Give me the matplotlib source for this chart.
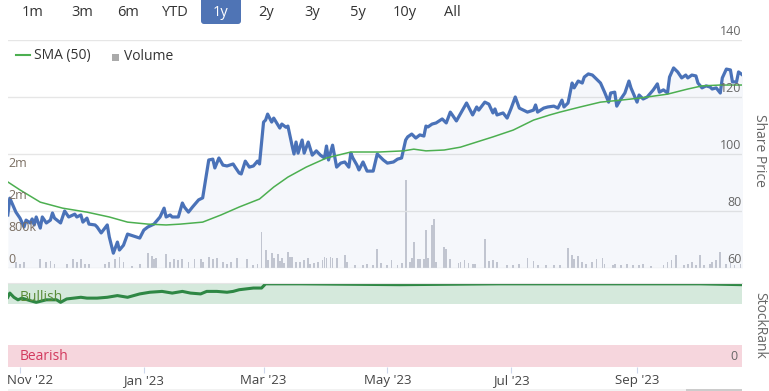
import matplotlib
matplotlib.use("Agg")
import matplotlib.pyplot as plt
import matplotlib.patches as mpatches
import matplotlib.transforms as mtrans
from matplotlib.lines import Line2D
import numpy as np
import pandas as pd

plt.rcParams['font.family'] = ['Open Sans', 'DejaVu Sans']

# days counted from 1 Nov 2022
price_day = [-6, -5, -2, 0, 2, 3, 5, 6, 7, 8,
             10, 11, 13, 15, 16, 17, 20, 22, 24, 27,
             28, 30, 31, 33, 34, 37, 38, 40, 43, 44,
             46, 48, 49, 51, 53, 56, 59, 61, 63, 66,
             69, 71, 72, 74, 75, 78, 80, 81, 83, 85,
             88, 90, 93, 95, 96, 98, 100, 102, 105, 106,
             108, 109, 111, 113, 115, 117, 118, 120, 121, 122,
             124, 125, 128, 129, 131, 132, 134, 135, 136, 137,
             139, 140, 142, 144, 146, 148, 150, 151, 152, 154,
             156, 158, 160, 162, 163, 164, 166, 167, 169, 171,
             174, 176, 179, 181, 184, 186, 188, 190, 191, 193,
             195, 197, 199, 200, 201, 203, 205, 208, 210, 212,
             213, 215, 218, 220, 221, 223, 225, 226, 229, 231,
             233, 234, 235, 238, 240, 242, 244, 246, 248, 250,
             253, 254, 255, 258, 260, 263, 265, 267, 268, 270,
             272, 273, 275, 277, 278, 280, 282, 284, 286, 288,
             290, 291, 293, 294, 296, 298, 300, 301, 304, 305,
             307, 309, 312, 314, 315, 317, 319, 320, 322, 324,
             326, 328, 329, 331, 333, 334, 336, 338, 340, 341,
             343, 345, 346, 348, 350, 351, 353, 354, 356]
price = [78.6, 84.5, 79.6, 77.5, 74.4, 76.8, 75.8, 77.2, 75.1, 77.9,
         74.0, 77.9, 75.8, 76.8, 79.3, 77.5, 75.8, 80.0, 77.9, 78.9,
         77.9, 78.6, 76.1, 77.5, 75.4, 75.1, 74.4, 72.3, 75.1, 70.9,
         65.2, 69.1, 66.3, 68.0, 71.9, 71.2, 70.5, 73.3, 74.4, 75.4,
         77.9, 81.0, 77.9, 78.6, 77.9, 77.9, 82.8, 81.4, 79.6, 81.4,
         83.9, 84.6, 97.9, 98.2, 95.1, 98.6, 96.1, 95.8, 96.5, 95.4,
         93.3, 93.0, 97.5, 95.4, 95.8, 97.5, 96.5, 111.2, 111.9, 114.0,
         111.2, 112.6, 109.1, 110.5, 109.4, 109.8, 103.1, 100.0, 104.2, 100.3,
         104.9, 100.3, 104.2, 99.6, 101.1, 99.6, 98.6, 102.8, 97.9, 103.1,
         95.4, 96.8, 97.2, 95.4, 100.3, 98.6, 96.1, 94.4, 97.2, 94.0,
         94.0, 100.0, 97.9, 96.8, 97.2, 98.2, 98.6, 104.9, 106.0, 107.0,
         105.6, 106.7, 106.3, 109.8, 109.5, 110.5, 110.9, 112.3, 110.9, 114.7,
         113.7, 111.6, 115.4, 117.9, 116.5, 113.7, 116.5, 115.4, 118.2, 117.5,
         114.4, 115.8, 113.7, 114.4, 112.6, 116.1, 120.0, 116.1, 115.4, 114.7,
         115.4, 117.2, 114.7, 116.1, 116.5, 116.8, 116.1, 118.9, 116.5, 117.9,
         124.9, 123.2, 125.6, 124.9, 127.0, 128.1, 127.7, 126.3, 124.9, 121.7,
         118.2, 121.4, 121.7, 116.8, 119.3, 121.4, 125.6, 123.2, 118.2, 120.7,
         119.3, 120.0, 122.5, 124.6, 121.7, 122.5, 121.4, 127.0, 130.2, 128.8,
         126.7, 127.7, 126.7, 127.7, 127.4, 124.9, 123.2, 123.9, 123.5, 122.8,
         123.2, 121.4, 126.7, 129.8, 129.5, 125.3, 125.3, 128.8, 127.7]

sma_day = [-6, 0, 10, 21, 33, 44, 53, 63, 72, 79, 90, 99, 108, 118, 125, 132, 141, 151, 163, 177,
           189, 194, 200, 209, 217, 225, 233, 243, 253, 261, 266, 276, 286, 296, 305, 319, 329, 336, 345, 356]
sma = [90.2, 87.4, 83.1, 81.0, 79.6, 77.9, 76.1, 75.4, 75.1, 75.4, 76.1, 78.6, 81.4, 84.2, 88.4, 91.9, 95.4, 98.6, 100.7, 100.7,
       101.1, 101.7, 101.1, 101.4, 102.4, 104.2, 106.0, 108.4, 111.9, 113.7, 114.7, 116.5, 118.2, 118.9, 119.6, 121.0, 122.8, 123.9, 124.2, 124.2]

vol_day = [-2, 0, 2, 10, 13, 15, 17, 23, 26, 28,
           30, 32, 34, 42, 44, 47, 49, 51, 55, 59,
           63, 65, 66, 67, 72, 74, 76, 78, 80, 83,
           86, 89, 90, 93, 95, 97, 100, 102, 104, 107,
           112, 115, 117, 119, 121, 122, 124, 125, 127, 128,
           129, 130, 132, 133, 134, 136, 138, 140, 142, 143,
           145, 147, 149, 150, 151, 153, 154, 156, 160, 161,
           165, 169, 171, 174, 176, 178, 181, 183, 186, 188,
           190, 192, 193, 194, 196, 197, 199, 200, 201, 203,
           204, 205, 209, 210, 212, 216, 217, 219, 221, 223,
           224, 229, 231, 233, 235, 240, 243, 246, 250, 253,
           255, 259, 263, 266, 270, 272, 273, 275, 277, 279,
           282, 284, 287, 288, 292, 293, 296, 299, 302, 305,
           307, 311, 317, 319, 321, 323, 327, 329, 331, 333,
           335, 337, 340, 341, 343, 345, 348, 350, 352, 355]
vol_k = [150, 100, 150, 225, 150, 175, 100, 100, 225, 150,
         225, 100, 100, 100, 150, 225, 275, 150, 50, 100,
         375, 300, 225, 250, 350, 150, 225, 200, 225, 150,
         225, 225, 150, 275, 225, 250, 150, 100, 150, 250,
         225, 75, 100, 900, 450, 200, 375, 250, 350, 175,
         250, 125, 400, 275, 275, 150, 150, 200, 250, 100,
         125, 150, 200, 275, 250, 275, 250, 250, 325, 150,
         75, 75, 100, 75, 475, 125, 75, 200, 75, 125,
         2200, 150, 250, 650, 225, 225, 225, 950, 250, 1075,
         1225, 150, 525, 475, 225, 125, 150, 200, 125, 100,
         100, 725, 175, 200, 150, 75, 75, 100, 250, 175,
         75, 75, 75, 75, 500, 325, 225, 300, 150, 100,
         150, 225, 250, 100, 75, 100, 75, 100, 75, 75,
         100, 50, 75, 150, 200, 325, 75, 100, 150, 75,
         325, 75, 100, 150, 200, 400, 100, 125, 75, 100]

rank_day = [-6, -5, -3, -1, 1, 5, 8, 13, 18, 20, 23, 30, 33, 38, 43, 48, 53, 59, 64,
            70, 75, 80, 84, 89, 92, 97, 102, 105, 108, 115, 119, 121, 138, 187, 236, 286, 335, 356]
rank = [83, 88, 83, 80, 82, 79, 77, 80, 80, 77, 81, 83, 82, 82, 83, 85, 83, 87, 89,
        90, 88, 90, 88, 87, 90, 90, 89, 90, 92, 94, 94, 99, 99, 98, 99, 99, 99, 98]

price_ticks = [60, 80, 100, 120, 140]
vol_ticks = [0, 800e3, 1.6e6, 2.4e6]
vol_labels = ["0", "800k", "2m", "2m"]
x_ticks = ["2022-11-01", "2023-01-01", "2023-03-01", "2023-05-01", "2023-07-01", "2023-09-01"]
x_labels = ["Nov '22", "Jan '23", "Mar '23", "May '23", "Jul '23", "Sep '23"]
buttons = ["1m", "3m", "6m", "YTD", "1y", "2y", "3y", "5y", "10y", "All"]
button_x = [33, 82, 128, 175, 221, 266, 312, 358, 405, 452]

base = pd.Timestamp("2022-11-01")


def to_dates(days):
    return base + pd.to_timedelta(np.asarray(days, dtype=float), unit="D")


W, H = 769, 391
fig = plt.figure(figsize=(W / 100, H / 100), dpi=100)
xlim = (base + pd.Timedelta(days=-5.9), base + pd.Timedelta(days=355.7))

# price + volume panel
ax = fig.add_axes([8 / W, 1 - 268 / H, 734 / W, 228 / H])
axv = ax.twinx()
ax.set_zorder(axv.get_zorder() + 1)
ax.patch.set_visible(False)

axv.bar(to_dates(vol_day), np.array(vol_k) * 1000, width=0.9, color="#c8cad2", lw=0)
axv.set_ylim(0, 5.7e6)
axv.set_yticks(vol_ticks)
axv.tick_params(left=False, right=False, labelleft=False, labelright=False)

pd_dates = to_dates(price_day)
ax.fill_between(pd_dates, price, 60, color="#4a72b8", alpha=0.05, lw=0)
ax.plot(pd_dates, price, color="#4a72b8", lw=2.3, solid_joinstyle="round")
ax.plot(to_dates(sma_day), sma, color="#4caf50", lw=1.1)
ax.set_ylim(60, 140)
ax.set_xlim(*xlim)
axv.set_xlim(*xlim)
ax.set_yticks(price_ticks)
ax.yaxis.grid(True, color="#e6e6e6", lw=1)
ax.set_axisbelow(True)
ax.tick_params(left=False, right=False, bottom=False, labelleft=False, labelbottom=False)
for v in price_ticks:
    ax.annotate(str(v), xy=(1, v), xycoords=("axes fraction", "data"), xytext=(-0.5, 1.5),
                textcoords="offset points", ha="right", va="bottom", fontsize=9,
                color="#666666", zorder=5)
# volume labels drawn on the top axes so the price line does not hide them
vol_tr = mtrans.blended_transform_factory(ax.transAxes, axv.transData)
for v, lab in zip(vol_ticks, vol_labels):
    ax.annotate(lab, xy=(0, v), xycoords=vol_tr, xytext=(0, 1.5),
                textcoords="offset points", ha="left", va="bottom", fontsize=9,
                color="#7a6e62", zorder=5)
for a in (ax, axv):
    for s in a.spines.values():
        s.set_visible(False)

# StockRank panel
axr = fig.add_axes([8 / W, 1 - 367 / H, 734 / W, 84 / H])
axr.axhspan(75, 100, color="#d5e9dc", lw=0)
axr.axhspan(0, 26, color="#f6d6dd", lw=0)
axr.plot(to_dates(rank_day), rank, color="#2e8744", lw=2.2)
axr.set_ylim(0, 100)
axr.set_xlim(*xlim)
axr.set_yticks([])
axr.set_xticks(pd.to_datetime(x_ticks))
axr.set_xticklabels(x_labels)
axr.tick_params(axis="x", length=4, color="#ccd6eb", labelsize=9.5, labelcolor="#444444", pad=1)
# first label is pushed inward so it stays inside the picture
first = axr.get_xticklabels()[0]
first.set_transform(first.get_transform() + mtrans.ScaledTranslation(10 / 100, 0, fig.dpi_scale_trans))
for k, s in axr.spines.items():
    s.set_visible(k == "top")
axr.spines["top"].set_color("#e6e6e6")
axr.text(0.016, 0.83, "Bullish", transform=axr.transAxes, ha="left", va="center",
         fontsize=10, color="#5b8c3a")
axr.text(0.016, 0.12, "Bearish", transform=axr.transAxes, ha="left", va="center",
         fontsize=10, color="#d23a5e")
axr.text(0.994, 0.13, "0", transform=axr.transAxes, ha="right", va="center",
         fontsize=9, color="#666666")

# axis titles on the right
fig.text(760 / W, 1 - 150 / H, "Share Price", rotation=270, ha="center", va="center",
         fontsize=10, color="#666666")
fig.text(760 / W, 1 - 325 / H, "StockRank", rotation=270, ha="center", va="center",
         fontsize=10, color="#666666")

# range selector buttons
pix = mtrans.IdentityTransform()
fig.patches.append(mpatches.FancyBboxPatch((201, H - 24), 40, 30,
                                           boxstyle="round,pad=0,rounding_size=3",
                                           transform=pix, color="#4f74b5", lw=0))
for lab, bx in zip(buttons, button_x):
    fig.text(bx / W, 1 - 12 / H, lab, ha="center", va="center", fontsize=10.5,
             color="white" if lab == "1y" else "#333333")

# legend
fig.add_artist(Line2D([16 / W, 30 / W], [1 - 55 / H, 1 - 55 / H], color="#4caf50", lw=1.5))
fig.text(34 / W, 1 - 56 / H, "SMA (50)", ha="left", va="center", fontsize=10, color="#333333")
fig.patches.append(mpatches.Rectangle((112, H - 61), 7, 7, transform=pix, color="#aaaaaa", lw=0))
fig.text(124 / W, 1 - 56 / H, "Volume", ha="left", va="center", fontsize=10, color="#333333")

# navigator scrollbar
fig.patches.append(mpatches.Rectangle((8, 0), 734, 2, transform=pix, color="#f2f2f2", lw=0))
fig.patches.append(mpatches.Rectangle((686, 0), 56, 2, transform=pix, color="#cccccc", lw=0))

fig.savefig("out.png", dpi=100)
